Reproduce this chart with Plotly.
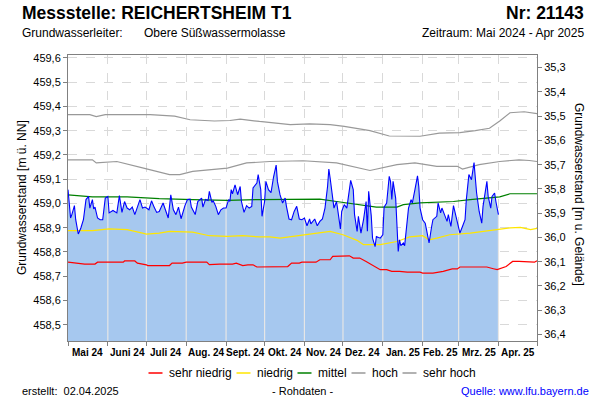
import numpy as np
import pandas as pd
import plotly.graph_objects as go

FONT = "Arial, 'Liberation Sans', sans-serif"
START = pd.Timestamp("2024-05-01")
END = pd.Timestamp("2025-05-01")
GROUND = 494.86  # Gelaendehoehe [m ue. NN]

month_labels = ["Mai 24", "Juni 24", "Juli 24", "Aug. 24", "Sept. 24", "Okt. 24",
                "Nov. 24", "Dez. 24", "Jan. 25", "Feb. 25", "Mrz. 25", "Apr. 25"]
left_ticks = [458.5, 458.6, 458.7, 458.8, 458.9, 459.0, 459.1, 459.2, 459.3, 459.4, 459.5, 459.6]
right_ticks = [35.3, 35.4, 35.5, 35.6, 35.7, 35.8, 35.9, 36.0, 36.1, 36.2, 36.3, 36.4]

# Rohdaten (Tage seit 01.05.2024, Wasserstand m ue. NN)
level_days = [0, 2, 3, 5, 6, 8, 10, 12, 14, 16, 17, 19, 20, 21, 23, 25, 27, 29, 31, 32, 35, 38, 40, 42,
              44, 46, 48, 50, 52, 54, 56, 58, 60, 63, 65, 67, 69, 71, 74, 76, 78, 80, 82, 84, 86, 88,
              91, 93, 95, 96, 99, 101, 104, 105, 107, 109, 110, 112, 113, 115, 117, 119, 121, 123,
              125, 126, 127, 128, 130, 132, 134, 135, 137, 139, 141, 143, 144, 147, 148, 150, 151,
              153, 154, 156, 158, 160, 162, 163, 165, 167, 169, 170, 172, 174, 176, 178, 180, 182,
              184, 186, 188, 189, 192, 194, 196, 198, 200, 202, 203, 204, 206, 207, 209, 210, 212,
              213, 215, 217, 219, 220, 222, 223, 225, 226, 228, 230, 232, 233, 234, 236, 237, 239,
              240, 243, 245, 246, 248, 250, 251, 252, 253, 255, 257, 258, 259, 261, 262, 264, 265,
              267, 268, 270, 272, 273, 274, 276, 278, 279, 281, 283, 284, 287, 288, 290, 291, 293,
              295, 296, 298, 300, 302, 303, 305, 307, 309, 310, 312, 314, 316, 317, 318, 320, 322,
              323, 326, 327, 329, 330, 332, 333, 335]
level_values = [459.057, 458.940, 458.954, 458.991, 458.933, 458.874, 458.899, 458.933, 459.016,
                459.029, 458.981, 459.016, 458.977, 458.985, 458.940, 458.933, 458.933, 459.022,
                459.029, 458.961, 458.971, 458.961, 459.032, 458.963, 459.008, 458.981, 458.974,
                458.985, 458.954, 458.985, 459.016, 458.981, 458.985, 458.974, 459.011, 458.985,
                458.963, 458.967, 459.002, 458.971, 458.940, 459.036, 458.974, 458.954, 458.985,
                458.937, 458.991, 459.016, 459.018, 458.985, 458.954, 459.008, 459.022, 458.985,
                459.016, 459.012, 459.050, 459.004, 459.011, 458.988, 458.954, 458.974, 458.981,
                458.981, 459.016, 459.008, 459.057, 459.040, 459.077, 459.036, 459.070, 459.008,
                458.963, 458.991, 458.981, 458.988, 459.064, 459.084, 459.119, 459.057, 458.947,
                459.008, 459.091, 459.057, 459.045, 459.110, 459.158, 459.090, 459.036, 459.002,
                459.022, 458.988, 458.936, 458.933, 458.967, 458.988, 458.936, 458.933, 458.940,
                458.908, 458.936, 458.916, 458.936, 458.908, 458.926, 458.936, 458.981, 459.070,
                459.142, 459.105, 459.008, 458.981, 459.008, 458.967, 458.895, 458.967, 458.995,
                458.981, 459.050, 459.095, 459.057, 458.954, 458.885, 458.947, 458.878, 458.933,
                459.008, 458.885, 459.050, 458.950, 458.857, 458.822, 458.864, 458.857, 458.871,
                458.985, 459.002, 459.112, 459.091, 459.016, 459.091, 459.022, 458.802, 458.850,
                458.826, 458.837, 458.826, 458.947, 458.981, 459.016, 459.002, 459.057, 459.114,
                459.070, 458.981, 458.933, 458.919, 458.892, 458.837, 458.905, 458.933, 458.947,
                459.002, 458.961, 458.981, 458.954, 458.926, 458.954, 458.905, 458.991, 458.947,
                458.919, 458.878, 458.905, 458.933, 459.016, 459.119, 459.098, 459.169, 459.105,
                459.043, 458.967, 458.919, 458.988, 459.091, 459.029, 458.981, 459.029, 459.043,
                459.008, 458.954]

# Kennlinien (Tage seit 01.05.2024)
sehr_hoch_days = [0, 17, 22, 29, 64, 83, 95, 114, 126, 134, 149, 157, 173, 188, 204, 215, 235, 250,
                  274, 289, 305, 317, 328, 336, 344, 355, 365]
sehr_hoch_values = [459.366, 459.366, 459.358, 459.366, 459.366, 459.360, 459.345, 459.340, 459.342,
                    459.348, 459.338, 459.333, 459.325, 459.328, 459.325, 459.318, 459.300, 459.278,
                    459.277, 459.290, 459.292, 459.300, 459.310, 459.340, 459.374, 459.378, 459.370]

hoch_days = [0, 19, 22, 38, 58, 79, 87, 97, 124, 139, 157, 173, 183, 209, 235, 256, 270, 287, 303,
             307, 320, 336, 351, 359, 365]
hoch_values = [459.180, 459.180, 459.167, 459.173, 459.147, 459.119, 459.119, 459.132, 459.146,
               459.167, 459.173, 459.176, 459.176, 459.167, 459.136, 459.160, 459.167, 459.153,
               459.153, 459.142, 459.160, 459.173, 459.180, 459.177, 459.173]

mittel_days = [0, 19, 46, 71, 97, 124, 149, 196, 209, 230, 240, 256, 261, 274, 300, 313, 336, 344, 365]
mittel_values = [459.035, 459.027, 459.027, 459.020, 459.016, 459.013, 459.016, 459.018, 459.008,
                 458.991, 458.985, 458.985, 458.995, 459.002, 459.008, 459.016, 459.027, 459.040,
                 459.040]

niedrig_days = [0, 19, 32, 46, 58, 61, 71, 79, 97, 110, 124, 136, 149, 157, 165, 183, 204, 214, 225,
                230, 243, 256, 266, 276, 281, 287, 297, 313, 336, 344, 352, 360, 365]
niedrig_values = [458.888, 458.888, 458.895, 458.892, 458.878, 458.874, 458.878, 458.885, 458.882,
                  458.867, 458.864, 458.867, 458.862, 458.862, 458.857, 458.871, 458.885, 458.871,
                  458.848, 458.830, 458.830, 458.843, 458.862, 458.867, 458.850, 458.857, 458.871,
                  458.878, 458.895, 458.899, 458.901, 458.892, 458.897]

sehr_niedrig_days = [0, 9, 13, 21, 23, 43, 44, 52, 54, 61, 62, 79, 81, 89, 92, 108, 110, 118, 128,
                     131, 136, 140, 144, 147, 152, 155, 171, 174, 180, 182, 193, 196, 204, 206, 213,
                     219, 222, 227, 232, 237, 243, 248, 252, 258, 264, 274, 276, 284, 292, 299, 303,
                     305, 326, 331, 334, 341, 346, 351, 357, 363, 365]
sehr_niedrig_values = [458.758, 458.754, 458.750, 458.750, 458.758, 458.758, 458.763, 458.763,
                       458.754, 458.747, 458.744, 458.744, 458.754, 458.754, 458.758, 458.758,
                       458.748, 458.750, 458.750, 458.754, 458.744, 458.747, 458.747, 458.738,
                       458.738, 458.740, 458.740, 458.754, 458.754, 458.758, 458.758, 458.768,
                       458.768, 458.782, 458.784, 458.784, 458.775, 458.775, 458.761, 458.747,
                       458.727, 458.727, 458.720, 458.720, 458.717, 458.717, 458.713, 458.713,
                       458.720, 458.730, 458.730, 458.738, 458.738, 458.731, 458.727, 458.740,
                       458.761, 458.761, 458.758, 458.758, 458.764]

legend_names = ["sehr niedrig", "niedrig", "mittel", "hoch", "sehr hoch"]
legend_colors = ["#ff0000", "#ffe600", "#008000", "#999999", "#999999"]


def to_dates(days):
    return START + pd.to_timedelta(np.asarray(days, dtype=float), unit="D")


Y_MIN, Y_MAX = 458.433, 459.612
# plot area in pixels
L, R, T, B = 68, 537, 55, 341


def fx(px):
    return (px - L) / (R - L)


def fy(py):
    return (B - py) / (B - T)


fig = go.Figure()

# blue area
fig.add_trace(go.Scatter(x=to_dates(level_days), y=level_values, mode="lines",
                         line=dict(width=0, color="#a6c8ef"), fill="tozeroy",
                         fillcolor="#a6c8ef", hoverinfo="skip", showlegend=False))

# light month lines inside the area
month_starts = pd.date_range("2024-06-01", "2025-04-01", freq="MS")
ms_days = np.array([(m - START).days for m in month_starts], dtype=float)
tops = np.interp(ms_days, level_days, level_values)
vx, vy = [], []
for m, top in zip(month_starts, tops):
    vx += [m, m, None]
    vy += [Y_MIN, top, None]
fig.add_trace(go.Scatter(x=vx, y=vy, mode="lines", line=dict(color="#e6e6e6", width=1.2),
                         hoverinfo="skip", showlegend=False))

series = [
    (sehr_niedrig_days, sehr_niedrig_values, legend_colors[0]),
    (niedrig_days, niedrig_values, legend_colors[1]),
    (mittel_days, mittel_values, legend_colors[2]),
    (hoch_days, hoch_values, legend_colors[3]),
    (sehr_hoch_days, sehr_hoch_values, legend_colors[4]),
]
for d, v, c in series:
    fig.add_trace(go.Scatter(x=to_dates(d), y=v, mode="lines", line=dict(color=c, width=1.2),
                             hoverinfo="skip", showlegend=False))

# blue line
fig.add_trace(go.Scatter(x=to_dates(level_days), y=level_values, mode="lines",
                         line=dict(color="#0000ff", width=1.1), showlegend=False))

# invisible trace on the depth axis
fig.add_trace(go.Scatter(x=[START, END], y=[GROUND - Y_MIN, GROUND - Y_MAX], yaxis="y2",
                         mode="lines", line=dict(width=0), opacity=0, hoverinfo="skip",
                         showlegend=False))

axis_col = "#808080"
grid_col = "#d9d9d9"

fig.update_layout(
    width=600, height=400,
    margin=dict(l=L, r=600 - R, t=T, b=400 - B, autoexpand=False),
    plot_bgcolor="white", paper_bgcolor="white",
    showlegend=False, separators=",.",
    font=dict(family=FONT, size=11, color="#000000"),
    xaxis=dict(type="date", range=[START, END], tick0="2024-05-01", dtick="M1",
               showticklabels=False, ticks="outside", ticklen=4, tickcolor=axis_col,
               showgrid=True, gridcolor=grid_col, griddash="dash", gridwidth=1,
               showline=True, linecolor=axis_col, mirror=True, zeroline=False),
    yaxis=dict(range=[Y_MIN, Y_MAX], tickmode="array", tickvals=left_ticks, tickformat=".1f",
               ticks="outside", ticklen=4, tickcolor=axis_col, showgrid=True,
               gridcolor=grid_col, griddash="dash", showline=True, linecolor=axis_col,
               zeroline=False, tickfont=dict(size=11, color="#000")),
    yaxis2=dict(overlaying="y", side="right", range=[GROUND - Y_MIN, GROUND - Y_MAX],
                tickmode="array", tickvals=right_ticks, tickformat=".1f", ticks="outside",
                ticklen=4, tickcolor=axis_col, showgrid=False, showline=True,
                linecolor=axis_col, zeroline=False, tickfont=dict(size=11, color="#000")),
)

ann = []
# month labels
bounds = pd.date_range(START, END, freq="MS")
for lab, a, b in zip(month_labels, bounds[:-1], bounds[1:]):
    mid = a + (b - a) / 2
    ann.append(dict(x=mid, xref="x", y=fy(352), yref="paper", text="<b>" + lab + "</b>",
                    showarrow=False, xanchor="center", yanchor="middle",
                    font=dict(size=10, color="#000")))

# header
ann.append(dict(x=fx(20), y=fy(13), text="<b>Messstelle: REICHERTSHEIM T1</b>",
                xanchor="left", font=dict(size=17.5)))
ann.append(dict(x=fx(586), y=fy(13), text="<b>Nr: 21143</b>", xanchor="right",
                font=dict(size=17.5)))
ann.append(dict(x=fx(20), y=fy(33), text="Grundwasserleiter:", xanchor="left", font=dict(size=12)))
ann.append(dict(x=fx(142), y=fy(33), text="Obere Süßwassermolasse", xanchor="left",
                font=dict(size=12)))
ann.append(dict(x=fx(586), y=fy(33), text="Zeitraum: Mai 2024 - Apr 2025", xanchor="right",
                font=dict(size=12)))
# axis titles
ann.append(dict(x=fx(22), y=0.5, text="Grundwasserstand [m ü. NN]", textangle=-90,
                xanchor="center", font=dict(size=12)))
ann.append(dict(x=fx(579), y=fy(194), text="Grundwasserstand [m u. Gelände]", textangle=90,
                xanchor="center", font=dict(size=12)))
# footer
ann.append(dict(x=fx(20), y=fy(391), text="erstellt:  02.04.2025", xanchor="left",
                font=dict(size=11)))
ann.append(dict(x=fx(302), y=fy(391), text="- Rohdaten -", xanchor="center", font=dict(size=11)))
ann.append(dict(x=fx(591), y=fy(391), text="Quelle: www.lfu.bayern.de", xanchor="right",
                font=dict(size=11, color="#0000ff")))

# manual legend
text_w = {"sehr niedrig": 63, "niedrig": 36, "mittel": 29, "hoch": 26, "sehr hoch": 53}
line_w, gap1, gap2 = 14, 4, 7
total = sum(line_w + gap1 + text_w[n] for n in legend_names) + gap2 * (len(legend_names) - 1)
x0 = 311 - total / 2
shapes = []
ly = 373
for n, c in zip(legend_names, legend_colors):
    shapes.append(dict(type="line", xref="paper", yref="paper", x0=fx(x0), x1=fx(x0 + line_w),
                       y0=fy(ly), y1=fy(ly), line=dict(color=c, width=1.5)))
    ann.append(dict(x=fx(x0 + line_w + gap1), y=fy(ly), text=n, xanchor="left",
                    font=dict(size=12)))
    x0 += line_w + gap1 + text_w[n] + gap2

for a in ann:
    a.setdefault("xref", "paper")
    a.setdefault("yref", "paper")
    a.setdefault("showarrow", False)
    a.setdefault("yanchor", "middle")

fig.update_layout(annotations=ann, shapes=shapes)
fig.write_html("out.html", config={"displayModeBar": False},
               post_script="document.body.style.margin='0';document.body.style.overflow='hidden';")
